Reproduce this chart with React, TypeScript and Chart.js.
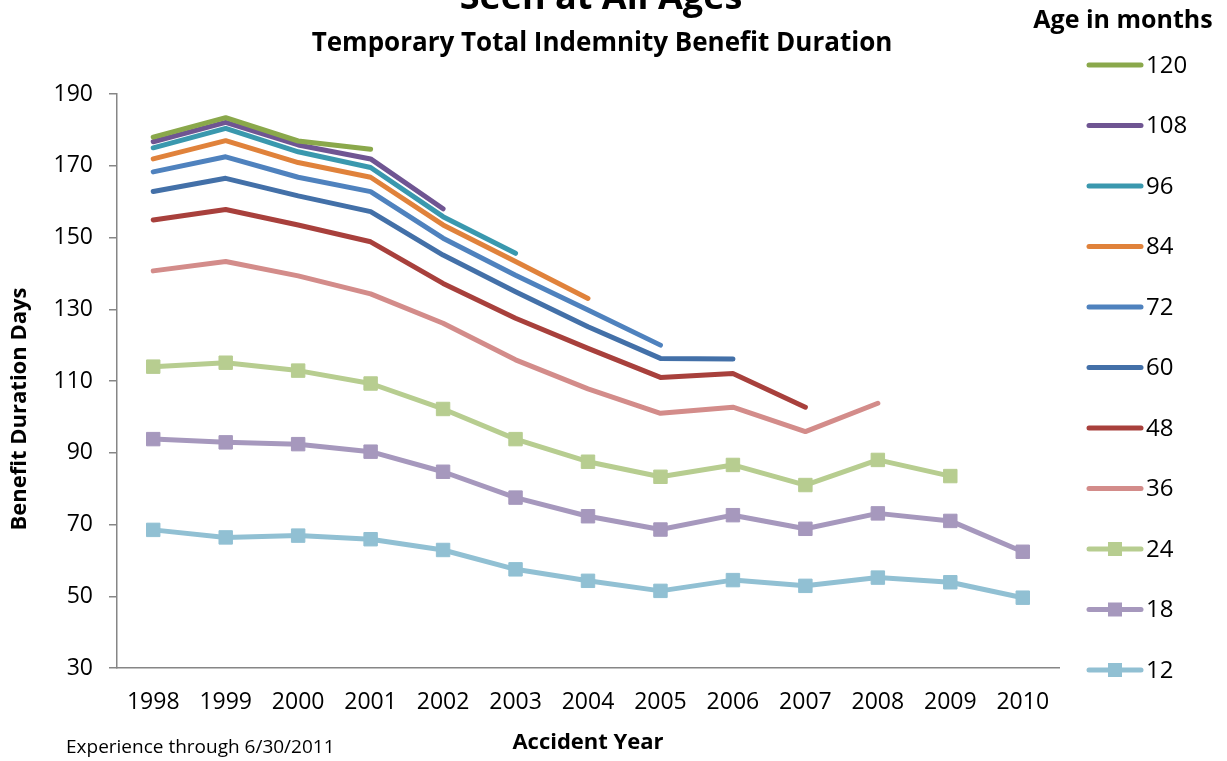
import { useEffect, useRef } from "react";
import { Chart, registerables } from "chart.js";

Chart.register(...registerables);

const years = ["1998", "1999", "2000", "2001", "2002", "2003", "2004", "2005", "2006", "2007", "2008", "2009", "2010"];
const ageLabels = ["120", "108", "96", "84", "72", "60", "48", "36", "24", "18", "12"];

const age120 = [178.0, 183.4, 176.9, 174.6, null, null, null, null, null, null, null, null, null];
const age108 = [176.7, 182.1, 175.8, 171.9, 158.0, null, null, null, null, null, null, null, null];
const age96 = [175.0, 180.4, 173.9, 169.5, 155.8, 145.6, null, null, null, null, null, null, null];
const age84 = [171.9, 177.0, 170.9, 166.8, 153.5, 143.3, 133.0, null, null, null, null, null, null];
const age72 = [168.3, 172.5, 166.8, 162.8, 149.8, 139.5, 129.8, 120.0, null, null, null, null, null];
const age60 = [162.8, 166.5, 161.6, 157.2, 145.1, 134.9, 125.1, 116.3, 116.1, null, null, null, null];
const age48 = [154.9, 157.8, 153.5, 148.8, 137.2, 127.5, 119.1, 111.0, 112.1, 102.7, null, null, null];
const age36 = [140.7, 143.3, 139.3, 134.3, 126.1, 115.9, 107.8, 101.0, 102.7, 95.9, 103.8, null, null];
const age24 = [114.0, 115.1, 112.9, 109.3, 102.2, 93.8, 87.5, 83.3, 86.6, 81.0, 88.0, 83.5, null];
const age18 = [93.8, 92.9, 92.4, 90.3, 84.7, 77.5, 72.3, 68.6, 72.6, 68.8, 73.1, 71.0, 62.4];
const age12 = [68.5, 66.4, 66.9, 65.9, 62.9, 57.5, 54.3, 51.5, 54.5, 52.9, 55.2, 53.9, 49.6];

const yTicks = [30, 50, 70, 90, 110, 130, 150, 170, 190];

const TITLE = "Seen at All Ages";
const SUBTITLE = "Temporary Total Indemnity Benefit Duration";
const LEGEND_TITLE = "Age in months";
const X_TITLE = "Accident Year";
const Y_TITLE = "Benefit Duration Days";
const FOOTNOTE = "Experience through 6/30/2011";

const seriesValues = [age120, age108, age96, age84, age72, age60, age48, age36, age24, age18, age12];
const seriesColors = ["#8aa84b", "#6f5592", "#3a98ae", "#e0823b", "#4f82be", "#4370a8", "#a8403c", "#d38c8a", "#b7cd90", "#a698bd", "#91c0d3"];
const seriesMarkers = [false, false, false, false, false, false, false, false, true, true, true];

const FONT = '"Open Sans", "DejaVu Sans", sans-serif';

const textPlugin = {
  id: "textPlugin",
  afterDraw(chart: any) {
    const ctx = chart.ctx;
    ctx.save();
    ctx.fillStyle = "#000";
    ctx.textAlign = "center";
    ctx.textBaseline = "alphabetic";
    ctx.font = `bold 36px ${FONT}`;
    ctx.fillText(TITLE, 601, 9);
    ctx.font = `bold 26px ${FONT}`;
    ctx.fillText(SUBTITLE, 602, 51);
    ctx.font = `bold 25px ${FONT}`;
    ctx.fillText(LEGEND_TITLE, 1123, 28);
    ctx.font = `bold 22px ${FONT}`;
    ctx.fillText(X_TITLE, 588, 749);
    ctx.textAlign = "left";
    ctx.font = `19px ${FONT}`;
    ctx.fillText(FOOTNOTE, 66, 753);
    // y title
    ctx.save();
    ctx.translate(20, 409);
    ctx.rotate(-Math.PI / 2);
    ctx.textAlign = "center";
    ctx.textBaseline = "middle";
    ctx.font = `bold 22px ${FONT}`;
    ctx.fillText(Y_TITLE, 0, 0);
    ctx.restore();

    // legend
    const datasets = chart.data.datasets;
    datasets.forEach((ds: any, i: number) => {
      const y = 65 + i * 60.5;
      ctx.strokeStyle = ds.borderColor;
      ctx.lineWidth = 5;
      ctx.lineCap = "round";
      ctx.beginPath();
      ctx.moveTo(1089, y);
      ctx.lineTo(1141, y);
      ctx.stroke();
      if (ds.pointRadius > 0) {
        ctx.fillStyle = ds.pointBackgroundColor;
        ctx.fillRect(1115 - 7, y - 7, 14, 14);
      }
      ctx.fillStyle = "#000";
      ctx.textAlign = "left";
      ctx.textBaseline = "middle";
      ctx.font = `24px ${FONT}`;
      ctx.fillText(ds.label, 1146, y + 1);
    });
    ctx.restore();
  },
};

export default function App() {
  const canvasRef = useRef<HTMLCanvasElement | null>(null);

  useEffect(() => {
    document.body.style.margin = "0";
    const canvas = canvasRef.current;
    if (!canvas) return;
    const datasets = seriesValues.map((vals, i) => ({
      label: ageLabels[i],
      data: vals,
      borderColor: seriesColors[i],
      backgroundColor: seriesColors[i],
      borderWidth: 5,
      borderCapStyle: "round" as const,
      borderJoinStyle: "round" as const,
      pointStyle: "rect" as const,
      pointRadius: seriesMarkers[i] ? 9.5 : 0,
      pointHoverRadius: seriesMarkers[i] ? 9.5 : 0,
      pointBackgroundColor: seriesColors[i],
      pointBorderColor: seriesColors[i],
      pointBorderWidth: 1,
      tension: 0,
      spanGaps: false,
      clip: false as any,
    }));

    const chart = new Chart(canvas, {
      type: "line",
      data: { labels: years, datasets },
      options: {
        animation: false,
        responsive: false,
        maintainAspectRatio: false,
        layout: { padding: { left: 0, right: 168, top: 94, bottom: 0 } },
        plugins: {
          legend: { display: false },
          title: { display: false },
          tooltip: { enabled: false },
        },
        scales: {
          x: {
            type: "category",
            offset: true,
            grid: { display: false, drawTicks: false },
            border: { display: true, color: "#868686", width: 1.5 },
            ticks: {
              color: "#000",
              font: { family: FONT, size: 23 },
              padding: 21,
              maxRotation: 0,
              autoSkip: false,
            },
            afterFit: (scale: any) => {
              scale.height = 93;
            },
          },
          y: {
            min: 30,
            max: 190,
            afterBuildTicks: (scale: any) => {
              scale.ticks = yTicks.map((v) => ({ value: v }));
            },
            grid: {
              display: true,
              drawOnChartArea: false,
              drawTicks: true,
              tickLength: 8,
              color: "#868686",
              lineWidth: 1.5,
            },
            border: { display: true, color: "#868686", width: 1.5 },
            ticks: {
              color: "#000",
              font: { family: FONT, size: 23 },
              padding: 16,
            },
            afterFit: (scale: any) => {
              scale.width = 117;
            },
          },
        },
      },
      plugins: [textPlugin],
    });
    return () => chart.destroy();
  }, []);

  return (
    <div style={{ position: "absolute", left: 0, top: 0, width: 1227, height: 761, background: "#fff" }}>
      <canvas ref={canvasRef} width={1227} height={761} />
    </div>
  );
}
